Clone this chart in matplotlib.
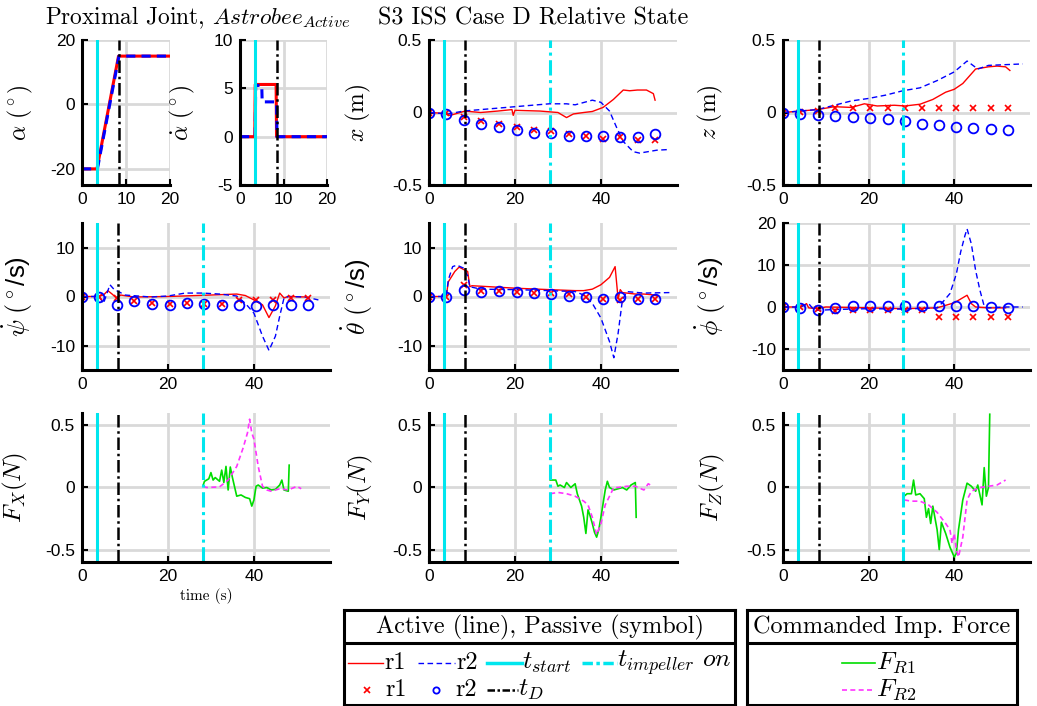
import numpy as np
import matplotlib
matplotlib.use('Agg')
import matplotlib.pyplot as plt

plt.rcParams['font.family'] = 'Liberation Sans'
plt.rcParams['mathtext.fontset'] = 'cm'
plt.rcParams['axes.unicode_minus'] = False

# event times (s)
t_start = 3.4
t_D = 8.4
t_imp = 28.1

# passive (symbol) sample times
t_sym = [0, 4.0, 8.1, 12.2, 16.3, 20.4, 24.5, 28.5, 32.5, 36.5, 40.5, 44.5, 48.6, 52.6]

# proximal joint angle / rate
alpha_t_r1 = [0, 3.4, 8.3, 20]
alpha_r1 = [-20, -20, 15, 15]
alpha_t_r2 = [0, 3.5, 8.4, 20]
alpha_r2 = [-20, -20, 15, 15]
adot_t_r1 = [0, 3.4, 3.5, 8.3, 8.4, 20]
adot_r1 = [0, 0, 5.4, 5.4, 0, 0]
adot_t_r2 = [0, 3.5, 3.6, 5.0, 5.1, 8.4, 8.5, 20]
adot_r2 = [0, 0, 5.3, 5.3, 3.6, 3.6, 0, 0]

# x (m)
x_r1_sym = [0, 0, -0.03, -0.06, -0.08, -0.10, -0.12, -0.13, -0.15, -0.16, -0.18, -0.17, -0.19, -0.19]
x_r2_sym = [0, -0.01, -0.05, -0.08, -0.10, -0.12, -0.14, -0.14, -0.16, -0.16, -0.16, -0.17, -0.17, -0.15]
x_t_r1 = [0, 3, 4.9, 8.4, 12, 16, 19.3, 19.6, 20, 25.8, 30, 32, 33.6, 36, 38, 40.5, 42.9, 45.2, 46.7, 48.5, 50.6, 52.2, 52.6]
x_r1 = [0, -0.005, -0.02, 0.01, 0.0, 0.01, 0.02, -0.02, 0.015, 0.01, 0.0, -0.035, -0.01, 0.0, 0.007, 0.035, 0.09, 0.155, 0.15, 0.155, 0.155, 0.13, 0.085]
x_t_r2 = [0, 4.5, 8, 12, 16, 20, 24, 28, 32, 34, 38, 40, 42, 43.6, 45.2, 47.5, 49, 53, 56]
x_r2 = [0, -0.01, 0.01, 0.02, 0.03, 0.04, 0.05, 0.06, 0.06, 0.053, 0.085, 0.07, 0.01, -0.10, -0.20, -0.27, -0.28, -0.26, -0.255]

# z (m)
z_r1_sym = [0, 0.005, 0.01, 0.028, 0.028, 0.034, 0.034, 0.034, 0.028, 0.028, 0.028, 0.032, 0.028, 0.028]
z_r2_sym = [0, -0.007, -0.014, -0.025, -0.03, -0.037, -0.048, -0.057, -0.076, -0.087, -0.099, -0.106, -0.115, -0.122]
z_t_r1 = [0, 4, 8, 12, 16, 19, 22, 26, 28.5, 32, 35, 38, 40, 42, 45, 48, 50, 52, 53]
z_r1 = [0, 0.01, 0.02, 0.04, 0.035, 0.06, 0.045, 0.05, 0.045, 0.057, 0.09, 0.14, 0.16, 0.2, 0.3, 0.315, 0.32, 0.315, 0.29]
z_t_r2 = [0, 4, 8, 12, 16, 20, 24, 28, 32, 36, 40, 43, 45.5, 48, 52, 56]
z_r2 = [0, 0.01, 0.02, 0.05, 0.08, 0.097, 0.12, 0.15, 0.17, 0.22, 0.28, 0.355, 0.30, 0.325, 0.33, 0.335]

# psi dot (deg/s)
psi_r1_sym = [0, 0, -0.3, -1.0, -1.4, -1.6, -1.4, -1.6, -1.6, -0.7, -0.7, -0.7, -0.3, -0.3]
psi_r2_sym = [0, -0.1, -1.7, -1.0, -1.6, -1.7, -1.4, -1.6, -1.7, -1.8, -1.9, -1.7, -1.8, -1.8]
psi_t_r1 = [0, 3.5, 5, 6, 7, 8, 9, 12, 20, 30, 36, 38, 40, 42, 43.5, 45, 46, 47, 48, 52]
psi_r1 = [0, 0, 0.3, 1.2, 0.5, -0.3, 0.3, -0.1, 0, 0.3, 0.5, 0.2, -0.7, -1.7, -4.3, -1.9, 0.7, -0.3, 0, -0.1]
psi_t_r2 = [0, 4, 5, 6.5, 7.5, 8.5, 10, 16, 20, 24, 28, 32, 36, 38, 40, 42, 43.5, 45, 46, 47, 48, 52, 55]
psi_r2 = [0, 0, -1.4, 2.4, 1.4, 1.0, 0.3, -0.1, 0.1, 0.7, 0.7, 0.5, 0.1, -1.4, -3.4, -8.1, -11, -8.1, -4, -0.3, 0, -0.1, -0.7]

# theta dot (deg/s)
th_r1_sym = [0, 0, 2.4, 1.2, 1.2, 1.0, 0.8, 0.7, 0.5, -0.1, -0.5, -0.7, -0.55, -0.55]
th_r2_sym = [0, 0, 1.4, 1.0, 1.2, 1.0, 0.7, 0.5, 0.1, -0.2, -0.5, -0.1, -0.5, -0.5]
th_t_r1 = [0, 4, 4.5, 6, 7, 8.3, 9, 9.5, 10, 14, 20, 28, 34, 36, 38, 40, 42, 43.3, 44, 44.5, 45, 48, 50, 52, 53]
th_r1 = [0, 0, 3, 5.1, 6.0, 5.4, 5.1, 2.0, 2.2, 2.0, 1.7, 1.4, 1.2, 1.2, 1.5, 2.4, 3.9, 6.1, -0.5, 1.4, 0.8, 0.5, 0.5, 0.35, 0.15]
th_t_r2 = [0, 4, 4.5, 5.5, 6.5, 8, 9, 9.5, 12, 20, 28, 34, 36, 38, 40, 42, 43, 44, 45, 46, 50, 56]
th_r2 = [0, 0, 3.4, 6.1, 6.4, 5.8, 4.2, 2.0, 1.5, 1.4, 1.2, 1.0, 0.3, -1.4, -4.4, -9.2, -12.5, -7.5, -0.7, 1.0, 0.7, 0.8]

# phi dot (deg/s)
phi_r1_sym = [0, 0, -0.4, -1.0, -0.6, -0.6, -0.6, -0.6, -0.6, -2.4, -2.4, -2.4, -2.4, -2.4]
phi_r2_sym = [0, -0.2, -0.6, -0.2, 0.2, 0.3, 0.2, 0.2, 0.2, 0.3, 0.2, 0.2, 0, -0.2]
phi_t_r1 = [0, 4, 5, 5.5, 6, 8, 10, 20, 28, 36, 38, 40, 42, 43, 44, 45, 48, 52]
phi_r1 = [0, 0, 0.5, 0.8, -0.2, -0.4, 0, -0.2, -0.4, -0.2, 0.4, 1.0, 2.2, 2.8, 0.8, 0, -0.2, -0.2]
phi_t_r2 = [0, 4, 6, 7, 8, 12, 20, 28, 36, 37, 39, 40.5, 41.5, 42.5, 43, 44, 45, 46, 47, 48, 52, 56]
phi_r2 = [0, 0, 0.8, -0.4, -0.8, -0.6, -0.4, -0.5, -0.2, 0.8, 3.2, 7.9, 13.1, 17, 18.6, 15, 8.7, 4, 0.2, -0.2, 0, 0]

# commanded impedance force (N)
fx_t_r1 = [28.2, 28.5, 29.5, 30, 30.5, 31, 32, 32.5, 33, 33.5, 34, 34.5, 35, 36, 37, 38, 39, 39.5, 40, 40.5, 41, 42, 43, 44, 45, 46, 46.5, 47, 48, 48.2]
fx_r1 = [0.02, 0.05, 0.07, 0.12, 0.06, 0.08, 0.05, 0.14, 0.04, 0.17, -0.02, 0.165, 0.08, -0.07, -0.06, -0.08, -0.09, -0.15, -0.10, 0.01, 0.02, -0.005, 0.0, -0.02, -0.015, 0.02, 0.06, -0.02, -0.03, 0.18]
fx_t_r2 = [28.2, 29, 32, 34, 36, 37.5, 38.5, 39, 39.5, 40, 41, 42, 43, 44, 46, 48, 50, 51]
fx_r2 = [0.01, 0.0, 0.005, 0.06, 0.17, 0.32, 0.44, 0.55, 0.44, 0.39, 0.17, 0.01, -0.02, -0.03, -0.01, -0.02, 0.01, -0.01]
fy_t_r1 = [28.2, 29.5, 30, 30.5, 31.5, 32, 33, 34, 34.5, 35, 35.5, 36, 36.5, 37, 37.5, 38, 38.5, 39, 39.5, 40, 40.5, 41, 41.5, 42, 43, 44, 45, 46, 47, 48, 48.2]
fy_r1 = [0.06, 0.06, 0.01, 0.02, 0.0, 0.04, 0.0, 0.03, -0.05, -0.10, -0.15, -0.24, -0.37, -0.18, -0.23, -0.29, -0.36, -0.40, -0.34, -0.24, -0.13, -0.02, 0.05, 0.0, -0.02, -0.01, 0.0, -0.02, 0.02, 0.04, -0.24]
fy_t_r2 = [28.2, 30, 32, 34, 36, 37, 38, 39, 40, 41, 42, 43, 44, 46, 48, 50, 51, 52]
fy_r2 = [-0.05, -0.04, -0.05, -0.07, -0.11, -0.14, -0.24, -0.38, -0.29, -0.14, -0.07, 0.0, 0.0, 0.01, 0.01, -0.02, 0.03, 0.01]
fz_t_r1 = [28.3, 29, 30, 30.5, 31, 32, 33, 33.5, 34, 34.5, 35, 36, 36.5, 37, 38, 39, 40, 40.5, 41, 42, 43, 44, 45, 45.5, 46.5, 47, 47.5, 48, 48.3]
fz_r1 = [-0.07, -0.05, -0.05, 0.06, -0.06, -0.05, -0.09, -0.24, -0.17, -0.29, -0.15, -0.34, -0.50, -0.28, -0.37, -0.48, -0.56, -0.53, -0.34, -0.10, 0.035, 0.01, -0.03, 0.02, -0.14, 0.16, -0.07, 0.0, 0.59]
fz_t_r2 = [28.3, 30, 32, 34, 36, 38, 39, 39.5, 40, 40.5, 41, 42, 43, 44, 46, 48, 50, 52]
fz_r2 = [-0.10, -0.11, -0.11, -0.14, -0.20, -0.29, -0.34, -0.45, -0.37, -0.50, -0.56, -0.40, -0.10, -0.03, 0.0, 0.01, 0.02, 0.06]

CYAN = '#00e6ee'
GREEN = '#00dd00'
MAG = '#ff33ff'
GRID = '#d9d9d9'
SERIF = 'cmr10'

W, H = 1037, 706
fig = plt.figure(figsize=(W / 100, H / 100), dpi=100)


def add_ax(l, t, r, b):
    return fig.add_axes([l / W, 1 - b / H, (r - l) / W, (b - t) / H])


def style(ax, xlim, xticks, ylim, yticks, ylabel, label_px, lsize=17):
    ax.set_xlim(xlim)
    ax.set_ylim(ylim)
    ax.set_xticks(xticks)
    ax.set_yticks(yticks)
    ax.set_yticklabels([('%g' % v) for v in yticks])
    ax.grid(True, color=GRID, lw=2)
    ax.set_axisbelow(True)
    for s in ['top', 'right']:
        ax.spines[s].set_visible(False)
    for s in ['left', 'bottom']:
        ax.spines[s].set_linewidth(2.2)
    ax.tick_params(direction='in', length=4, width=1.5, labelsize=12.5, pad=5)
    ax.set_ylabel(ylabel, fontsize=lsize)
    pos = ax.get_position()
    ax.yaxis.set_label_coords((label_px / W - pos.x0) / pos.width, 0.5)


def event_lines(ax):
    ax.axvline(t_start, color=CYAN, lw=2.2)
    ax.axvline(t_D, color='k', lw=1.8, ls=(0, (5, 1.5, 1, 1.5)))
    ax.axvline(t_imp, color=CYAN, lw=2.2, ls=(0, (5, 1.5, 1, 1.5)))


def state_panel(ax, r1_t, r1, r2_t, r2, s1, s2):
    ax.plot(r1_t, r1, color='r', lw=1.0)
    ax.plot(r2_t, r2, color='b', lw=1.0, ls=(0, (4, 2.5)))
    ax.plot(t_sym, s1, 'x', color='r', ms=4, mew=1.2)
    ax.plot(t_sym, s2, 'o', mfc='none', mec='b', ms=7, mew=1.3)
    event_lines(ax)


TL = [0, 57.7]
rows = [(40, 185), (223, 370), (413, 562)]
cols = [(82, 330), (429, 677), (783, 1030)]

# row 1: joint angle, joint rate, x, z
ax = add_ax(82, 40, 170, 185)
ax.plot(alpha_t_r1, alpha_r1, color='r', lw=2.2)
ax.plot(alpha_t_r2, alpha_r2, color='b', lw=2.2, ls=(0, (3, 2)))
event_lines(ax)
style(ax, [0, 20], [0, 10, 20], [-25, 20], [-20, 0, 20], r'$\alpha\ (^\circ)$', 35)

ax = add_ax(240, 40, 327, 185)
ax.plot(adot_t_r1, adot_r1, color='r', lw=2.2)
ax.plot(adot_t_r2, adot_r2, color='b', lw=2.2, ls=(0, (3, 2)))
event_lines(ax)
style(ax, [0, 20], [0, 10, 20], [-5, 10], [-5, 0, 5, 10], r'$\dot{\alpha}\ (^\circ)$', 197)

ax = add_ax(cols[1][0], rows[0][0], cols[1][1], rows[0][1])
state_panel(ax, x_t_r1, x_r1, x_t_r2, x_r2, x_r1_sym, x_r2_sym)
style(ax, TL, [0, 20, 40], [-0.5, 0.5], [-0.5, 0, 0.5], r'$x\ (\mathrm{m})$', 373)

ax = add_ax(cols[2][0], rows[0][0], cols[2][1], rows[0][1])
state_panel(ax, z_t_r1, z_r1, z_t_r2, z_r2, z_r1_sym, z_r2_sym)
style(ax, TL, [0, 20, 40], [-0.5, 0.5], [-0.5, 0, 0.5], r'$z\ (\mathrm{m})$', 725)

# row 2: angular rates
ax = add_ax(cols[0][0], rows[1][0], cols[0][1], rows[1][1])
state_panel(ax, psi_t_r1, psi_r1, psi_t_r2, psi_r2, psi_r1_sym, psi_r2_sym)
style(ax, TL, [0, 20, 40], [-15, 15], [-10, 0, 10], r'$\dot{\psi}$ $(^\circ$/s)', 35, 18.5)

ax = add_ax(cols[1][0], rows[1][0], cols[1][1], rows[1][1])
state_panel(ax, th_t_r1, th_r1, th_t_r2, th_r2, th_r1_sym, th_r2_sym)
style(ax, TL, [0, 20, 40], [-15, 15], [-10, 0, 10], r'$\dot{\theta}$ $(^\circ$/s)', 375, 18.5)

ax = add_ax(cols[2][0], rows[1][0], cols[2][1], rows[1][1])
state_panel(ax, phi_t_r1, phi_r1, phi_t_r2, phi_r2, phi_r1_sym, phi_r2_sym)
style(ax, TL, [0, 20, 40], [-15, 20], [-10, 0, 10, 20], r'$\dot{\phi}$ $(^\circ$/s)', 728, 18.5)

# row 3: commanded impedance forces
force_sets = [(fx_t_r1, fx_r1, fx_t_r2, fx_r2, r'$F_X(N)$', 30),
              (fy_t_r1, fy_r1, fy_t_r2, fy_r2, r'$F_Y(N)$', 375),
              (fz_t_r1, fz_r1, fz_t_r2, fz_r2, r'$F_Z(N)$', 727)]
for (l, r), (t1, f1, t2, f2, lab, lp) in zip(cols, force_sets):
    ax = add_ax(l, rows[2][0], r, rows[2][1])
    ax.plot(t1, f1, color=GREEN, lw=1.2)
    ax.plot(t2, f2, color=MAG, lw=1.2, ls=(0, (3, 2)))
    event_lines(ax)
    style(ax, TL, [0, 20, 40], [-0.6, 0.6], [-0.5, 0, 0.5], lab, lp, 18)
    if l == cols[0][0]:
        ax.set_xlabel('time (s)', fontfamily=SERIF, fontsize=11, labelpad=3)

# titles
fig.text(45 / W, 1 - 18 / H, r'Proximal Joint, $Astrobee_{Active}$', fontfamily=SERIF,
         fontsize=16.8, va='center', ha='left')
fig.text(378 / W, 1 - 18 / H, 'S3 ISS Case D Relative State', fontfamily=SERIF,
         fontsize=17.3, va='center', ha='left')


# legend boxes
def legend_box(l, t, r, b):
    lax = add_ax(l, t, r, b)
    lax.set_xlim(l, r)
    lax.set_ylim(b, t)
    lax.set_xticks([])
    lax.set_yticks([])
    for s in lax.spines.values():
        s.set_linewidth(2.2)
    lax.axhline(643, color='k', lw=2.2)
    return lax


lax = legend_box(344, 610, 735, 705)
lax.text(540, 627, 'Active (line), Passive (symbol)', fontfamily=SERIF, fontsize=17.5,
         ha='center', va='center')
lax.plot([348, 383], [663, 663], color='r', lw=1.0)
lax.text(384, 663, 'r1', fontfamily=SERIF, fontsize=17.5, va='center')
lax.plot([418, 455], [663, 663], color='b', lw=1.0, ls=(0, (4, 2.5)))
lax.text(456, 663, 'r2', fontfamily=SERIF, fontsize=17.5, va='center')
lax.plot([487, 522], [663, 663], color=CYAN, lw=2.5)
lax.text(522, 663, r'$t_{start}$', fontsize=18.5, va='center')
lax.plot([582, 617], [663, 663], color=CYAN, lw=2.5, ls=(0, (3, 1, 1, 1)))
lax.text(617, 663, r'$t_{impeller}\ on$', fontsize=18.5, va='center')
lax.plot([367], [690], 'x', color='r', ms=4, mew=1.2)
lax.text(385, 690, 'r1', fontfamily=SERIF, fontsize=17.5, va='center')
lax.plot([436], [690], 'o', mfc='none', mec='b', ms=4.5, mew=1.3)
lax.text(455, 690, 'r2', fontfamily=SERIF, fontsize=17.5, va='center')
lax.plot([487, 518], [690, 690], color='k', lw=1.8, ls=(0, (3, 1, 1, 1)))
lax.text(518, 690, r'$t_D$', fontsize=18.5, va='center')

lax = legend_box(747, 610, 1017, 705)
lax.text(882, 627, 'Commanded Imp. Force', fontfamily=SERIF, fontsize=17.5,
         ha='center', va='center')
lax.plot([842, 875], [663, 663], color=GREEN, lw=1.2)
lax.text(876, 663, r'$F_{R1}$', fontsize=18.5, va='center')
lax.plot([842, 875], [690, 690], color=MAG, lw=1.2, ls=(0, (3, 2)))
lax.text(876, 690, r'$F_{R2}$', fontsize=18.5, va='center')

fig.savefig('out.png', dpi=100)
